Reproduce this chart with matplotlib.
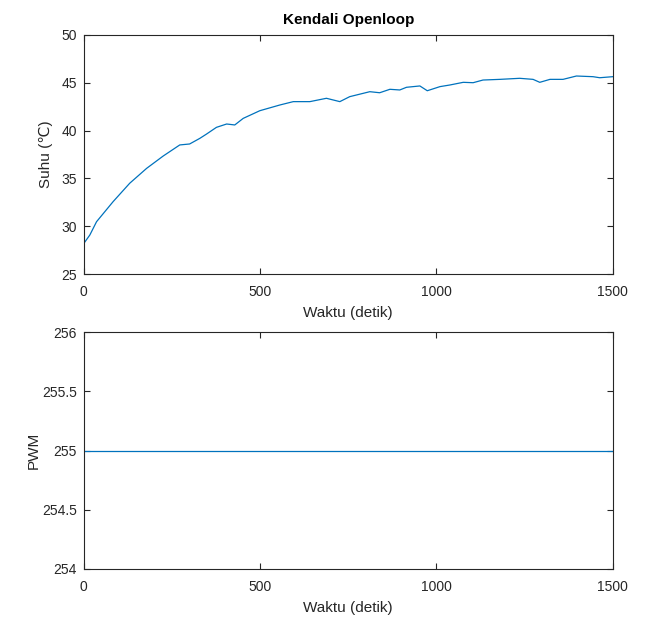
import matplotlib.pyplot as plt

plt.rcParams['font.family'] = ['Liberation Sans', 'DejaVu Sans']

# data
waktu = [0, 17, 36, 83, 130, 178, 225, 272, 300, 329, 348, 376, 405, 428, 452, 499,
         556, 594, 641, 688, 726, 754, 811, 839, 868, 896, 915, 953, 974, 1010, 1038,
         1076, 1104, 1132, 1180, 1236, 1274, 1293, 1322, 1359, 1397, 1444, 1463, 1500]
suhu = [28.2, 29.08, 30.47, 32.57, 34.49, 36.05, 37.34, 38.5, 38.6, 39.19, 39.64, 40.34,
        40.69, 40.59, 41.28, 42.08, 42.68, 43.03, 43.03, 43.38, 43.03, 43.55, 44.07, 43.96,
        44.32, 44.25, 44.53, 44.67, 44.17, 44.6, 44.77, 45.05, 45.01, 45.29, 45.36, 45.47,
        45.36, 45.05, 45.36, 45.36, 45.71, 45.64, 45.53, 45.64]
pwm_t = [0, 1500]
pwm = [255, 255]

warna = '#0072BD'
abu = '#262626'

fig = plt.figure(figsize=(6.45, 6.25), dpi=100)
ax1 = fig.add_axes([0.130, 0.5616, 0.820, 0.3824])
ax2 = fig.add_axes([0.130, 0.0896, 0.820, 0.3792])

def gaya(ax):
    for s in ax.spines.values():
        s.set_color(abu)
        s.set_linewidth(0.8)
    ax.tick_params(direction='in', top=True, right=True, colors=abu,
                   labelsize=10, length=4, width=0.8)
    ax.tick_params(axis='x', pad=8)
    ax.tick_params(axis='y', pad=5)

ax1.plot(waktu, suhu, color=warna, linewidth=0.9)
ax1.set_xlim(0, 1500)
ax1.set_ylim(25, 50)
ax1.set_xticks([0, 500, 1000, 1500])
ax1.set_yticks([25, 30, 35, 40, 45, 50])
ax1.set_xlabel('Waktu (detik)', fontsize=11, color=abu, labelpad=5)
ax1.set_ylabel('Suhu (℃)', fontsize=11, color=abu, labelpad=6)
ax1.set_title('Kendali Openloop', fontsize=11, fontweight='bold', color='black', pad=8)
gaya(ax1)

ax2.plot(pwm_t, pwm, color=warna, linewidth=0.9)
ax2.set_xlim(0, 1500)
ax2.set_ylim(254, 256)
ax2.set_xticks([0, 500, 1000, 1500])
ax2.set_yticks([254, 254.5, 255, 255.5, 256])
ax2.set_yticklabels(['254', '254.5', '255', '255.5', '256'])
ax2.set_xlabel('Waktu (detik)', fontsize=11, color=abu, labelpad=5)
ax2.set_ylabel('PWM', fontsize=11, color=abu, labelpad=1)
gaya(ax2)

fig.savefig('out.png', dpi=100)
